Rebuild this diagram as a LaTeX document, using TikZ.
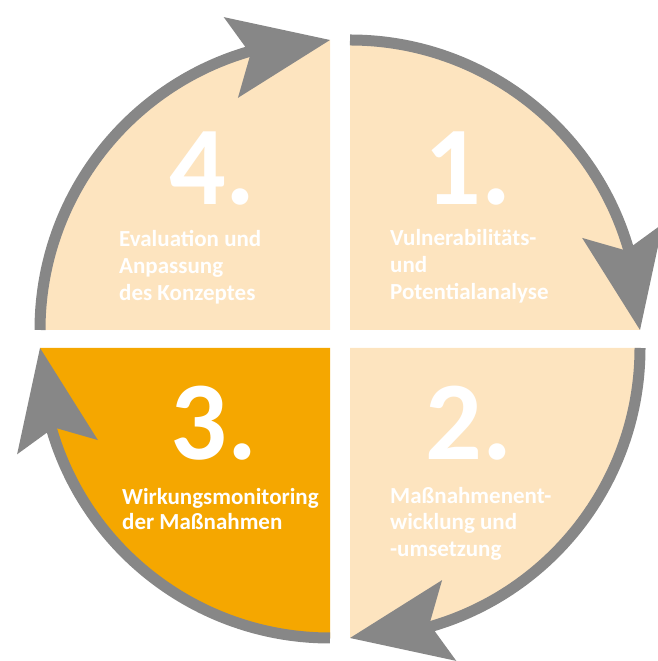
\documentclass[tikz,border=0pt]{standalone}
\usepackage{fontspec}
\setmainfont{Carlito}
\usetikzlibrary{calc}
\definecolor{peach}{HTML}{FDE4BF}
\definecolor{amber}{HTML}{F5A700}
\definecolor{ring}{HTML}{878787}
\begin{document}
\begin{tikzpicture}[x=1pt,y=1pt,
  num/.style={font=\fontsize{112}{112}\selectfont\bfseries, text=white, inner sep=0pt, text depth=0pt, anchor=base},
  lbl/.style={font=\fontsize{23}{27}\selectfont\bfseries, text=white, inner sep=0pt, anchor=base west},
  band/.style={draw=ring, line width=11pt},
  head/.style={fill=ring}]
\useasboundingbox (0,0) rectangle (658,661);
% corners
\coordinate (cTR) at (350,331);
\coordinate (cBR) at (350,313);
\coordinate (cBL) at (330,313);
\coordinate (cTL) at (330,331);
% fills
\fill[peach] (cTR) -- ++(90:290) arc[start angle=90,end angle=0,radius=290pt] -- cycle;
\fill[peach] (cBR) -- ++(0:290) arc[start angle=0,end angle=-90,radius=290pt] -- cycle;
\fill[amber] (cBL) -- ++(-90:290) arc[start angle=-90,end angle=-180,radius=290pt] -- cycle;
\fill[peach] (cTL) -- ++(180:290) arc[start angle=180,end angle=90,radius=290pt] -- cycle;
% bands
\coordinate (sTR) at ($(cTR)+(90:290)$);
\coordinate (sBR) at ($(cBR)+(0:290)$);
\coordinate (sBL) at ($(cBL)+(-90:290)$);
\coordinate (sTL) at ($(cTL)+(180:290)$);
\draw[band] (sTR) arc[start angle=90,end angle=14,radius=290pt];
\draw[band] (sBR) arc[start angle=0,end angle=-76,radius=290pt];
\draw[band] (sBL) arc[start angle=-90,end angle=-166,radius=290pt];
\draw[band] (sTL) arc[start angle=180,end angle=104,radius=290pt];
% arrow heads
\coordinate (tTR) at ($(cTR)+(0:290)$);   \coordinate (mTR) at ($(cTR)+(20:290)$);
\coordinate (tBR) at ($(cBR)+(-90:290)$); \coordinate (mBR) at ($(cBR)+(-70:290)$);
\coordinate (tBL) at ($(cBL)+(-180:290)$);\coordinate (mBL) at ($(cBL)+(-160:290)$);
\coordinate (tTL) at ($(cTL)+(90:290)$);  \coordinate (mTL) at ($(cTL)+(110:290)$);
\foreach \q in {TR,BR,BL,TL}{
  \fill[head] (t\q) -- ($(m\q)!41pt!90:(t\q)$) -- ($(m\q)!20pt!(t\q)$) -- ($(m\q)!41pt!-90:(t\q)$) -- cycle;
}
% numbers
\node[num] (n4) at (212.5,456) {4.};
\node[num] (n1) at (468,456) {1.};
\node[num] (n3) at (214,201) {3.};
\node[num] (n2) at (469,201) {2.};
% labels
\node[lbl] (l4a) at (119,414.3) {Evaluation und};
\node[lbl] (l4b) at (119,387.5) {Anpassung};
\node[lbl] (l4c) at (119,360) {des Konzeptes};
\node[lbl] (l1a) at (390,415) {Vulnerabilitäts-};
\node[lbl] (l1b) at (390,388) {und};
\node[lbl] (l1c) at (390,361) {Potentialanalyse};
\node[lbl] (l3a) at (122,156) {Wirkungsmonitoring};
\node[lbl] (l3b) at (122,131) {der Maßnahmen};
\node[lbl] (l2a) at (390,157.7) {Maßnahmenent-};
\node[lbl] (l2b) at (390,131) {wicklung und};
\node[lbl] (l2c) at (390,104.3) {-umsetzung};
\end{tikzpicture}
\end{document}
